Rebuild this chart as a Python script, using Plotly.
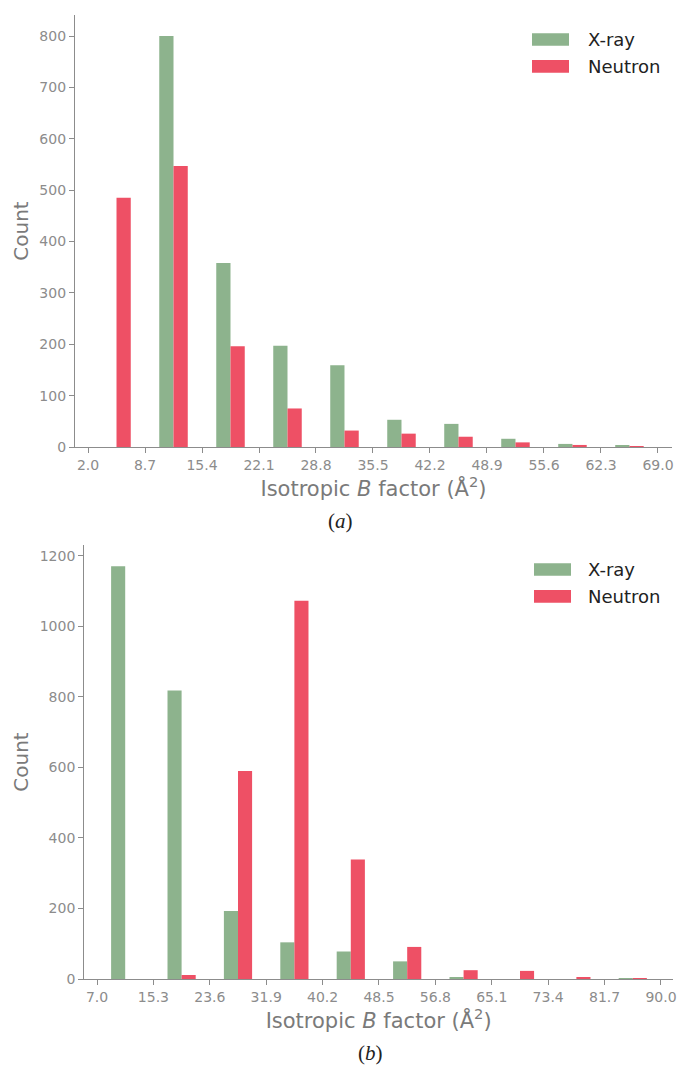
import plotly.graph_objects as go

W, H = 678, 1065

# ---------------- data ----------------
edges_a = [2.0, 8.7, 15.4, 22.1, 28.8, 35.5, 42.2, 48.9, 55.6, 62.3, 69.0]
ticks_a = ["2.0", "8.7", "15.4", "22.1", "28.8", "35.5", "42.2", "48.9", "55.6", "62.3", "69.0"]
xray_a = [0, 800, 358, 197, 159, 53, 45, 16, 6, 2]
neutron_a = [485, 547, 196, 75, 32, 26, 20, 9, 4, 1]

edges_b = [7.0, 15.3, 23.6, 31.9, 40.2, 48.5, 56.8, 65.1, 73.4, 81.7, 90.0]
ticks_b = ["7.0", "15.3", "23.6", "31.9", "40.2", "48.5", "56.8", "65.1", "73.4", "81.7", "90.0"]
xray_b = [1171, 818, 193, 104, 78, 50, 3, 0, 0, 1]
neutron_b = [0, 11, 590, 1073, 339, 91, 25, 23, 4, 1]

series_names = ["X-ray", "Neutron"]
green = "#8db38d"
red = "#ee5065"
gray = "#8c8c8c"
font_family = "DejaVu Sans"


def centers(e):
    return [(e[i] + e[i + 1]) / 2 for i in range(len(e) - 1)]


def px_x(p):
    return p / W


def px_y(p):
    return 1 - p / H


fig = go.Figure()
fig.add_trace(go.Bar(x=centers(edges_a), y=xray_a, name=series_names[0], marker_color=green,
                     marker_line_width=0, xaxis="x", yaxis="y", showlegend=False))
fig.add_trace(go.Bar(x=centers(edges_a), y=neutron_a, name=series_names[1], marker_color=red,
                     marker_line_width=0, xaxis="x", yaxis="y", showlegend=False))
fig.add_trace(go.Bar(x=centers(edges_b), y=xray_b, name=series_names[0], marker_color=green,
                     marker_line_width=0, xaxis="x2", yaxis="y2", showlegend=False))
fig.add_trace(go.Bar(x=centers(edges_b), y=neutron_b, name=series_names[1], marker_color=red,
                     marker_line_width=0, xaxis="x2", yaxis="y2", showlegend=False))

axis_common = dict(showgrid=False, zeroline=False, showline=True, linecolor=gray, linewidth=1.3,
                   ticks="outside", ticklen=5, tickwidth=1.3, tickcolor=gray,
                   tickfont=dict(family=font_family, size=14, color=gray), automargin=False,
                   ticklabeloverflow="allow")
title_font = dict(family=font_family, size=20, color="#7a7a7a")
xtitle_font = dict(family=font_family, size=21, color="#7a7a7a")
xtitle = "Isotropic <i>B</i> factor (Å<sup>2</sup>)"

fig.update_layout(
    width=W, height=H,
    margin=dict(l=0, r=0, t=0, b=0),
    paper_bgcolor="white", plot_bgcolor="white",
    barmode="group", bargap=0.5, bargroupgap=0,
    font=dict(family=font_family),
    xaxis=dict(domain=[px_x(75), px_x(672)], range=[0.47, 70.65], anchor="y",
               tickvals=edges_a, ticktext=ticks_a,
               title=dict(text=xtitle, font=xtitle_font, standoff=8), **axis_common),
    yaxis=dict(domain=[px_y(447), px_y(15)], range=[0, 841], anchor="x",
               tickvals=list(range(0, 801, 100)),
               title=dict(text="Count", font=title_font, standoff=5), **axis_common),
    xaxis2=dict(domain=[px_x(84.3), px_x(673)], range=[5.13, 91.77], anchor="y2",
                tickvals=edges_b, ticktext=ticks_b,
                title=dict(text=xtitle, font=xtitle_font, standoff=8), **axis_common),
    yaxis2=dict(domain=[px_y(979), px_y(545)], range=[0, 1231], anchor="x2",
                tickvals=list(range(0, 1201, 200)),
                title=dict(text="Count", font=title_font, standoff=5), **axis_common),
)

# custom legends (wide patches like the original)
legend_specs = [
    (532, 569, [(33.3, 45.7), (60, 72.7)], 586),
    (534, 571, [(563.3, 575.7), (590, 602.7)], 586),
]
for x0, x1, rows, tx in legend_specs:
    for (y0, y1), col, name in zip(rows, [green, red], series_names):
        fig.add_shape(type="rect", xref="paper", yref="paper",
                      x0=px_x(x0), x1=px_x(x1), y0=px_y(y1), y1=px_y(y0),
                      fillcolor=col, line=dict(width=0))
        fig.add_annotation(x=px_x(tx), y=px_y((y0 + y1) / 2), xref="paper", yref="paper",
                           text=name, showarrow=False, xanchor="left", yanchor="middle",
                           font=dict(family=font_family, size=18, color="#222222"))

# panel captions
fig.add_annotation(x=px_x(340), y=px_y(521), xref="paper", yref="paper", text="(<i>a</i>)",
                   showarrow=False, xanchor="center", yanchor="middle",
                   font=dict(family="Liberation Serif", size=21, color="#222222"))
fig.add_annotation(x=px_x(370), y=px_y(1053), xref="paper", yref="paper", text="(<i>b</i>)",
                   showarrow=False, xanchor="center", yanchor="middle",
                   font=dict(family="Liberation Serif", size=21, color="#222222"))

fig.write_html("out.html", config={"displayModeBar": False},
               post_script="document.body.style.margin='0px';")
